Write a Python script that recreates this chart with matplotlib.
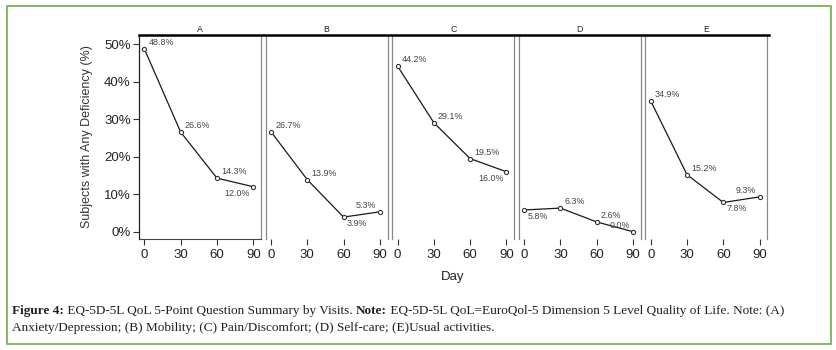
import matplotlib
matplotlib.use("Agg")
import matplotlib.pyplot as plt
from matplotlib.lines import Line2D
from matplotlib.patches import Rectangle

# values
days = [0, 30, 60, 90]
panels = ["A", "B", "C", "D", "E"]
pct_A = [48.8, 26.6, 14.3, 12.0]
pct_B = [26.7, 13.9, 3.9, 5.3]
pct_C = [44.2, 29.1, 19.5, 16.0]
pct_D = [5.8, 6.3, 2.6, 0.0]
pct_E = [34.9, 15.2, 7.8, 9.3]
yticks = [0, 10, 20, 30, 40, 50]

# where each value label sits relative to its point
label_side = {
    "A": ["ur", "ur", "ur", "dl"],
    "B": ["ur", "ur", "dr", "ul"],
    "C": ["ur", "ur", "ur", "dl"],
    "D": ["dr", "ur", "ur", "ul"],
    "E": ["ur", "ur", "dr", "ul"],
}
offsets = {"ur": (3, 4.7, "left"), "dl": (-2.2, -4.7, "right"),
           "dr": (2.2, -4.5, "left"), "ul": (-2.4, 4.8, "right")}

W, H = 837, 350
fig = plt.figure(figsize=(W / 100, H / 100), dpi=100)
plt.rcParams['font.family'] = ['Liberation Sans', 'DejaVu Sans']

def px(x, y):
    return x / W, 1 - y / H

series = [pct_A, pct_B, pct_C, pct_D, pct_E]
left0, step, width = 139, 126.6, 122
top, bottom = 35, 239

for i, (name, vals) in enumerate(zip(panels, series)):
    l = left0 + i * step
    ax = fig.add_axes([l / W, 1 - bottom / H, width / W, (bottom - top) / H])
    ax.plot(days, vals, color="#1a1a1a", lw=0.9, marker="o", ms=3.0,
            mfc="white", mec="#333333", mew=0.8)
    for d, v, side in zip(days, vals, label_side[name]):
        dx, dy, ha = offsets[side]
        ax.annotate(f"{v:.1f}%", (d, v), xytext=(dx, dy), textcoords="offset points",
                    ha=ha, va="center", fontsize=6.4, color="#444444")
    ax.set_xlim(-4.4, 96.4)
    ax.set_ylim(-1.95, 52.5)
    ax.set_xticks(days)
    ax.tick_params(axis="x", length=4, width=0.8, color="#333333", labelsize=9.5,
                   labelcolor="#222222", pad=3)
    for s in ["left", "right"]:
        ax.spines[s].set_color("#888888")
        ax.spines[s].set_linewidth(0.9)
    ax.spines["top"].set_visible(False)
    if i == 0:
        ax.spines["left"].set_color("#222222")
        ax.spines["bottom"].set_color("#444444")
        ax.spines["bottom"].set_linewidth(0.8)
        ax.set_yticks(yticks)
        ax.set_yticklabels([f"{t}%" for t in yticks])
        ax.tick_params(axis="y", length=4, width=0.8, color="#333333", labelsize=9.5,
                       labelcolor="#222222", pad=2)
        ax.set_ylabel("Subjects with Any Deficiency (%)", fontsize=9, color="#333333",
                      labelpad=8)
    else:
        ax.spines["bottom"].set_visible(False)
        ax.set_yticks([])
    cx, cy = px(l + width / 2, 29)
    fig.text(cx, cy, name, ha="center", va="center", fontsize=6.3, color="#222222")

# strip line across the top of all panels
x0, y0 = px(139, 35)
x1, _ = px(769, 35)
fig.add_artist(Line2D([x0, x1], [y0, y0], color="black", lw=1.8))

dx, dy = px(452.7, 277)
fig.text(dx, dy, "Day", ha="center", va="center", fontsize=9.5, color="#222222")

# caption with bold runs
cap_lines = [
    [("Figure 4:", "bold"), (" EQ-5D-5L QoL 5-Point Question Summary by Visits. ", "normal"),
     ("Note:", "bold"),
     (" EQ-5D-5L QoL=EuroQol-5 Dimension 5 Level Quality of Life. Note: (A)", "normal")],
    [("Anxiety/Depression; (B) Mobility; (C) Pain/Discomfort; (D) Self-care; (E)Usual activities.",
      "normal")],
]
fig.canvas.draw()
renderer = fig.canvas.get_renderer()
for row, parts in zip([311, 328], cap_lines):
    xpos = 12
    for txt, wt in parts:
        tx, ty = px(xpos, row)
        t = fig.text(tx, ty, txt, ha="left", va="center", fontsize=9.5,
                     family="Liberation Serif", weight=wt, color="#231f20")
        bb = t.get_window_extent(renderer=renderer)
        xpos += bb.width

bx, by = px(7.5, 343.5)
bx2, by2 = px(831, 5.5)
fig.add_artist(Rectangle((bx, by), bx2 - bx, by2 - by, transform=fig.transFigure,
                         fill=False, edgecolor="#70AD47", lw=1.2))

fig.savefig("out.png", dpi=100)
